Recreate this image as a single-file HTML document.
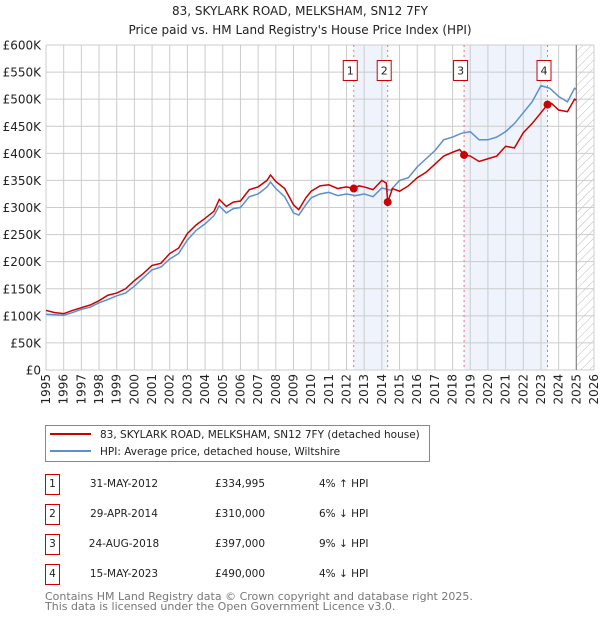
<!DOCTYPE html>
<html><head><meta charset="utf-8"><style>
body{margin:0;background:#fff;font-family:"DejaVu Sans","Liberation Sans",sans-serif;}
svg text{font-family:"DejaVu Sans","Liberation Sans",sans-serif;}
</style></head><body>
<svg id="c" width="600" height="620" xmlns="http://www.w3.org/2000/svg">
<text x="300" y="15" text-anchor="middle" font-size="12" fill="#222">83, SKYLARK ROAD, MELKSHAM, SN12 7FY</text>
<text x="300" y="34" text-anchor="middle" font-size="12" fill="#222">Price paid vs. HM Land Registry's House Price Index (HPI)</text>
<g id="plot"></g>
<g>
<rect x="45.5" y="425.5" width="384" height="36" fill="#fff" stroke="#888"/>
<line x1="50" y1="434" x2="91" y2="434" stroke="#cc0000" stroke-width="2"/>
<text x="100" y="438" font-size="10.5" fill="#222">83, SKYLARK ROAD, MELKSHAM, SN12 7FY (detached house)</text>
<line x1="50" y1="451" x2="91" y2="451" stroke="#5b8fd0" stroke-width="2"/>
<text x="100" y="455" font-size="10.5" fill="#222">HPI: Average price, detached house, Wiltshire</text>
</g>
<g id="table"></g>
<text x="45" y="600" font-size="11" fill="#777">Contains HM Land Registry data © Crown copyright and database right 2025.</text>
<text x="45" y="610" font-size="11" fill="#777">This data is licensed under the Open Government Licence v3.0.</text>
</svg>
<script>
const hpiYears=[1995,1995.5,1996,1996.5,1997,1997.5,1998,1998.5,1999,1999.5,2000,2000.5,2001,2001.5,2002,2002.5,2003,2003.5,2004,2004.5,2004.8,2005.2,2005.6,2006,2006.5,2007,2007.5,2007.7,2008,2008.5,2009,2009.3,2009.7,2010,2010.5,2011,2011.5,2012,2012.5,2013,2013.5,2014,2014.5,2015,2015.5,2016,2016.5,2017,2017.5,2018,2018.5,2019,2019.5,2020,2020.5,2021,2021.5,2022,2022.5,2023,2023.5,2024,2024.5,2024.9,2025];
const hpiValues=[103,102,101,106,112,116,124,130,137,142,155,170,185,190,205,215,240,258,270,285,303,290,298,300,320,325,338,347,335,320,290,286,305,318,325,328,322,325,322,325,320,336,332,350,355,375,390,405,425,430,437,440,425,425,430,440,455,475,495,525,520,505,495,520,518];
const ppYears=[1995,1995.5,1996,1996.5,1997,1997.5,1998,1998.5,1999,1999.5,2000,2000.5,2001,2001.5,2002,2002.5,2003,2003.5,2004,2004.5,2004.8,2005.2,2005.6,2006,2006.5,2007,2007.5,2007.7,2008,2008.5,2009,2009.3,2009.7,2010,2010.5,2011,2011.5,2012,2012.4,2012.7,2013,2013.5,2014,2014.25,2014.33,2014.6,2015,2015.5,2016,2016.5,2017,2017.5,2018,2018.4,2018.65,2019,2019.5,2020,2020.5,2021,2021.5,2022,2022.5,2023,2023.37,2023.6,2024,2024.5,2024.9,2025];
const ppValues=[110,106,104,110,115,120,128,138,142,150,165,178,193,197,215,225,252,268,280,293,315,302,310,312,333,338,350,360,348,335,305,296,318,330,340,342,335,338,335,340,338,333,350,345,310,335,330,340,355,365,380,395,402,407,397,395,385,390,395,413,410,438,455,475,490,492,480,477,500,498];
const saleLabels=["1","2","3","4"];
const saleDates=[2012.41,2014.33,2018.65,2023.37];
const salePrices=[334995,310000,397000,490000];
const saleDateText=["31-MAY-2012","29-APR-2014","24-AUG-2018","15-MAY-2023"];
const salePriceText=["£334,995","£310,000","£397,000","£490,000"];
const saleHpiText=["4% ↑ HPI","6% ↓ HPI","9% ↓ HPI","4% ↓ HPI"];
const yTicks=[0,50,100,150,200,250,300,350,400,450,500,550,600];
const yTickLabels=["£0","£50K","£100K","£150K","£200K","£250K","£300K","£350K","£400K","£450K","£500K","£550K","£600K"];
const xTicks=[1995,1996,1997,1998,1999,2000,2001,2002,2003,2004,2005,2006,2007,2008,2009,2010,2011,2012,2013,2014,2015,2016,2017,2018,2019,2020,2021,2022,2023,2024,2025,2026];

const L=46,R=594,T=45,B=370;
const X=v=>L+(v-1995)/(2026-1995)*(R-L);
const Y=v=>B-v/600*(B-T);
const NS="http://www.w3.org/2000/svg";
const plot=document.getElementById('plot');
function mk(tag,attrs,parent){const e=document.createElementNS(NS,tag);for(const k in attrs)e.setAttribute(k,attrs[k]);(parent||plot).appendChild(e);return e;}

for(let i=0;i<2;i++){
 const r=mk('rect',{x:X(saleDates[i*2]),y:T,width:X(saleDates[i*2+1])-X(saleDates[i*2]),height:B-T,fill:'#eef3fc'});
 
 
}
const defs=mk('defs',{});
const pat=mk('pattern',{id:'h',width:6,height:6,patternUnits:'userSpaceOnUse',patternTransform:'rotate(45)'},defs);
mk('line',{x1:0,y1:0,x2:0,y2:6,stroke:'#bbb','stroke-width':1},pat);
const hr=mk('rect',{x:X(2025),y:T,width:R-X(2025),height:B-T,fill:'url(#h)'});


yTicks.forEach((t,i)=>{
 const g=mk('line',{x1:L,x2:R,y1:Y(t),y2:Y(t),stroke:'#ccc','stroke-width':1});
 
 
 const tx=mk('text',{x:L-5,y:Y(t)+4.5,'text-anchor':'end','font-size':12,fill:'#222'});
 tx.textContent=yTickLabels[i];
 
 
});
xTicks.forEach(t=>{
 const g=mk('line',{x1:X(t),x2:X(t),y1:T,y2:B,stroke:'#ccc','stroke-width':1});
 
 
 const tx=mk('text',{x:X(t)+4,y:B+4,'text-anchor':'end','font-size':12,fill:'#222',transform:`rotate(-90 ${X(t)+4} ${B+4})`});
 tx.textContent=String(t);
 
 
});
const nl=mk('line',{x1:X(2025),x2:X(2025),y1:T,y2:B,stroke:'#888','stroke-width':1.2});


saleDates.forEach((d,i)=>{
 const l=mk('line',{x1:X(d),x2:X(d),y1:T,y2:B,stroke:'#f07070','stroke-width':1,'stroke-dasharray':'2,3'});
 
 
 const b=mk('rect',{x:X(d)-10.5,y:60.5,width:14,height:20,fill:'#fff',stroke:'#cc0000'});
 
 
 const t=mk('text',{x:X(d)-3.5,y:74.5,'text-anchor':'middle','font-size':11,fill:'#222'});
 t.textContent=saleLabels[i];
 
 
});
const hp=mk('polyline',{points:hpiYears.map((y,i)=>X(y)+','+Y(hpiValues[i])).join(' '),fill:'none',stroke:'#5b8fd0','stroke-width':1.5});


const pp=mk('polyline',{points:ppYears.map((y,i)=>X(y)+','+Y(ppValues[i])).join(' '),fill:'none',stroke:'#cc0000','stroke-width':1.5});


saleDates.forEach((d,i)=>{
 const c=mk('circle',{cx:X(d),cy:Y(salePrices[i]/1000),r:4,fill:'#cc0000'});
 
 
});
const tb=document.getElementById('table');
saleLabels.forEach((s,i)=>{
 const y=487+i*30;
 const b=mk('rect',{x:45.5,y:y-12.5,width:14,height:20,fill:'#fff',stroke:'#cc0000'},tb);
 
 
 const cells=[[52.5,s,'middle'],[124,saleDateText[i],'middle'],[240,salePriceText[i],'middle'],[319,saleHpiText[i],'start']];
 cells.forEach(([x,t,a])=>{
  const e=mk('text',{x:x,y:y,'text-anchor':a,'font-size':10.5,fill:'#222'},tb);
  e.textContent=t;
  
  
 });
});
</script>
</body></html>
